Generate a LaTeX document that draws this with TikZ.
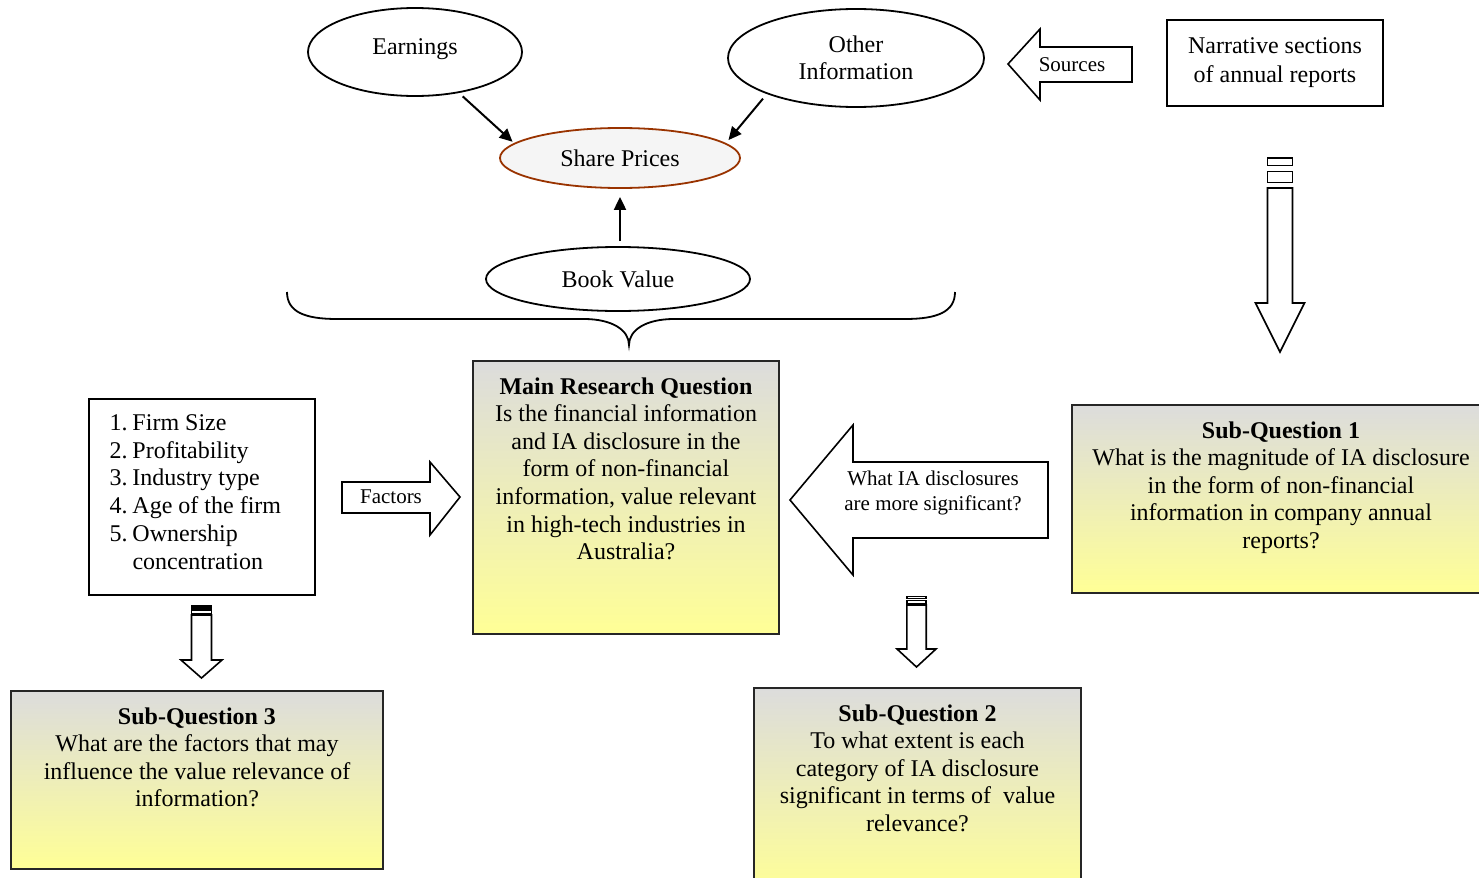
\documentclass[tikz,border=0pt]{standalone}
\usepackage{fontspec}
\setmainfont{Liberation Serif}
\usetikzlibrary{shapes.geometric, arrows.meta, positioning}
\definecolor{qgray}{RGB}{220,220,220}
\definecolor{qyellow}{RGB}{255,255,150}
\definecolor{sharebrown}{RGB}{153,51,0}
\definecolor{sharefill}{RGB}{245,245,245}

% x, stripe top, body top, head top, tip, half body, half head
\newcommand{\stripedarrow}[7]{%
  \draw[blockarrow] ({#1-#6},#2) rectangle ({#1+#6},{#2+0.25*(#3-#2)});
  \draw[blockarrow] ({#1-#6},{#2+0.45*(#3-#2)}) rectangle ({#1+#6},{#2+0.82*(#3-#2)});
  \draw[blockarrow] ({#1-#6},#3) -- ({#1+#6},#3) -- ({#1+#6},#4) -- ({#1+#7},#4)
    -- (#1,#5) -- ({#1-#7},#4) -- ({#1-#6},#4) -- cycle;
}

\begin{document}
\begin{tikzpicture}[
    x=0.5pt, y=-0.5pt,
    oval/.style={ellipse, draw, line width=0.9pt, inner sep=0, align=center,
                 font=\fontsize{12}{13.5}\selectfont},
    plainbox/.style={rectangle, draw, line width=0.9pt, inner sep=0, align=center,
                 font=\fontsize{12}{14.5}\selectfont},
    qbox/.style={rectangle, draw=black!85, line width=1pt, inner sep=0,
                 top color=qgray, bottom color=qyellow},
    qtext/.style={inner sep=0, align=center, font=\fontsize{12}{13.8}\selectfont},
    arrowtext/.style={inner sep=0, align=center, font=\fontsize{10.5}{12.8}\selectfont},
    blockarrow/.style={draw, line width=0.8pt, line join=miter, fill=white},
    arrow/.style={-{Triangle[length=6.5pt,width=6pt]}, line width=1pt}
]
    \useasboundingbox (0,0) rectangle (1479,878);

    % top: what drives share prices
    \node[oval, minimum width=107pt, minimum height=44pt] (earnings) at (415,52)
        {\raisebox{5pt}{Earnings}};
    \node[oval, minimum width=128pt, minimum height=49pt] (other) at (856,58)
        {Other\\Information};
    \node[oval, draw=sharebrown, fill=sharefill, minimum width=120pt, minimum height=30pt]
        (share) at (620,158) {Share Prices};
    \node[oval, minimum width=132pt, minimum height=32pt] (book) at (618,279) {Book Value};

    \draw[arrow, shorten <=2.5pt, shorten >=1pt] (earnings.-43) -- (share.172);
    \draw[arrow, shorten <=3pt, shorten >=2pt] (other.202) -- (share.8);
    \draw[arrow, shorten <=2.5pt, shorten >=4pt] (book.north -| share.south) -- (share.south);

    % sources
    \node[plainbox, minimum width=108pt, minimum height=43pt] (narrative) at (1275,63)
        {Narrative sections\\of annual reports};
    \draw[blockarrow] (1008,64) -- (1040,29) -- (1040,47) -- (1132,47) -- (1132,82)
        -- (1040,82) -- (1040,100) -- cycle;
    \node[arrowtext] (sources) at (1072,65) {Sources};
    \stripedarrow{1280}{158}{188}{303}{352}{12.5}{24.5}

    % brace
    \draw[line width=0.9pt] (287,292) .. controls (287,312) and (305,319) .. (337,319)
        -- (584,319) .. controls (612,319) and (629,330) .. (629,345)
        .. controls (629,330) and (646,319) .. (674,319)
        -- (905,319) .. controls (937,319) and (955,312) .. (955,292);

    % main research question
    \node[qbox, minimum width=153pt, minimum height=136.5pt] (main) at (626,497.5) {};
    \node[qtext, below=8.5pt of main.north] (maintext)
        {\textbf{Main Research Question}\\Is the financial information\\and IA disclosure in the\\
         form of non-financial\\information, value relevant\\in high-tech industries in\\Australia?};

    % factors
    \node[plainbox, minimum width=113pt, minimum height=98pt] (factors) at (202,497) {};
    \node[inner sep=0, align=left, font=\fontsize{12}{13.9}\selectfont,
          below right=8pt and 10.5pt of factors.north west] (factorlist)
        {\makebox[11.5pt][l]{1.}Firm Size\\\makebox[11.5pt][l]{2.}Profitability\\
         \makebox[11.5pt][l]{3.}Industry type\\\makebox[11.5pt][l]{4.}Age of the firm\\
         \makebox[11.5pt][l]{5.}Ownership\\\hspace*{11.5pt}concentration};
    \draw[blockarrow] (342,482) -- (430,482) -- (430,462) -- (460,497) -- (430,535)
        -- (430,513) -- (342,513) -- cycle;
    \node[arrowtext] (factorlabel) at (391,497) {Factors};

    % significance arrow
    \draw[blockarrow] (790,500) -- (853,425) -- (853,462) -- (1048,462) -- (1048,538)
        -- (853,538) -- (853,575) -- cycle;
    \node[arrowtext] (sigtext) at (933,493) {What IA disclosures\\are more significant?};

    % sub-questions
    \node[qbox, minimum width=209pt, minimum height=94pt] (sq1) at (1281,499) {};
    \node[qtext, below=8.5pt of sq1.north] (sq1text)
        {\textbf{Sub-Question 1}\\What is the magnitude of IA disclosure\\in the form of non-financial\\
         information in company annual\\reports?};

    \stripedarrow{916.5}{596.5}{605}{649}{667}{9.7}{19.5}
    \node[qbox, minimum width=163.5pt, minimum height=103.5pt] (sq2) at (917.5,791.5) {};
    \node[qtext, below=8.5pt of sq2.north] (sq2text)
        {\textbf{Sub-Question 2}\\To what extent is each\\category of IA disclosure\\
         significant in terms of \ value\\relevance?};

    \stripedarrow{201.5}{606}{615}{660}{678}{10}{20.5}
    \node[qbox, minimum width=186pt, minimum height=89pt] (sq3) at (197,780) {};
    \node[qtext, below=8.5pt of sq3.north] (sq3text)
        {\textbf{Sub-Question 3}\\What are the factors that may\\influence the value relevance of\\
         information?};
\end{tikzpicture}
\end{document}
